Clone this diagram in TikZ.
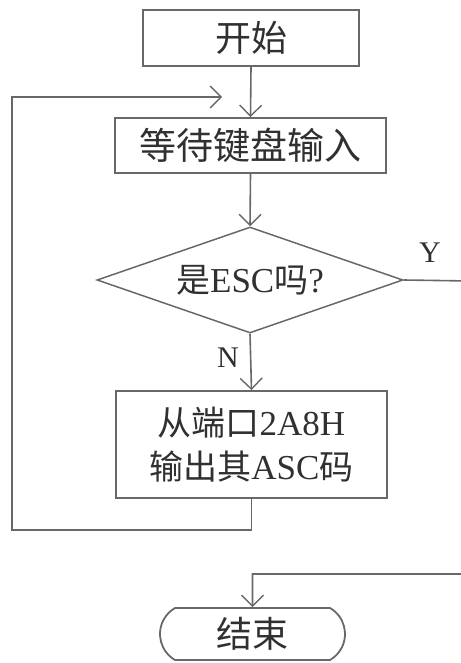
\documentclass[tikz,border=0pt]{standalone}
\usepackage{fontspec}
\setmainfont{Liberation Serif}
\newfontfamily\cjk{Noto Sans CJK SC}
\usetikzlibrary{shapes.geometric,shapes.misc,arrows.meta}
\definecolor{linegray}{HTML}{686868}
\definecolor{txtgray}{HTML}{303030}
\tikzset{
  box/.style={draw=linegray, line width=1.8pt, rectangle, inner sep=0pt, text=txtgray},
  decision/.style={draw=linegray, line width=1.5pt, diamond, aspect=2.9, inner sep=0pt, text=txtgray},
  terminal/.style={draw=linegray, line width=1.8pt, rounded rectangle, rounded rectangle arc length=120, inner sep=0pt, text=txtgray},
  conn/.style={draw=linegray, line width=1.6pt},
  arr/.style={conn, -{Straight Barb[length=11pt,width=22pt,line width=1.4pt]}},
  lbl/.style={text=txtgray, font=\fontsize{30}{30}\selectfont}
}
\begin{document}
\begin{tikzpicture}[x=1pt,y=-1pt]
\useasboundingbox (0,0) rectangle (460,663);
\node[box, minimum width=216pt, minimum height=56pt, font=\cjk\fontsize{36}{36}\selectfont] (start) at (251,38) {开始};
\node[box, minimum width=271pt, minimum height=55pt, font=\cjk\fontsize{37}{37}\selectfont] (wait) at (250.5,145.5) {等待键盘输入};
\node[decision, minimum width=306pt, minimum height=106pt, font=\fontsize{35}{35}\selectfont] (dec) at (250,280) {{\cjk\fontsize{34}{34}\selectfont 是}ESC{\cjk\fontsize{34}{34}\selectfont 吗}?};
\node[box, minimum width=271pt, minimum height=107pt, align=center, font=\fontsize{35}{44}\selectfont] (proc) at (251.5,444.5) {{\cjk\fontsize{34}{44}\selectfont 从端口}2A8H\\{\cjk\fontsize{34}{44}\selectfont 输出其}ASC{\cjk\fontsize{34}{44}\selectfont 码}};
\node[terminal, minimum width=185pt, minimum height=52pt, font=\cjk\fontsize{36}{36}\selectfont] (end) at (252.5,634) {结束};
\node[lbl] (ylbl) at (430,253) {Y};
\node[lbl] (nlbl) at (228,358) {N};
\coordinate (loopin) at (222,97);
\coordinate (rightout) at (470,281);
\coordinate (rightin) at (470,574);
\draw[arr] (start.south) -- (wait.north);
\draw[arr] (wait.south) -- (dec.north);
\draw[arr] (dec.south) -- (proc.north);
\draw[arr] (proc.south) -- ++(0,31) -| (12,97) -- (loopin);
\draw[arr] (dec.east) -- (rightout) -- (rightin) -| (end.north);
\end{tikzpicture}
\end{document}
